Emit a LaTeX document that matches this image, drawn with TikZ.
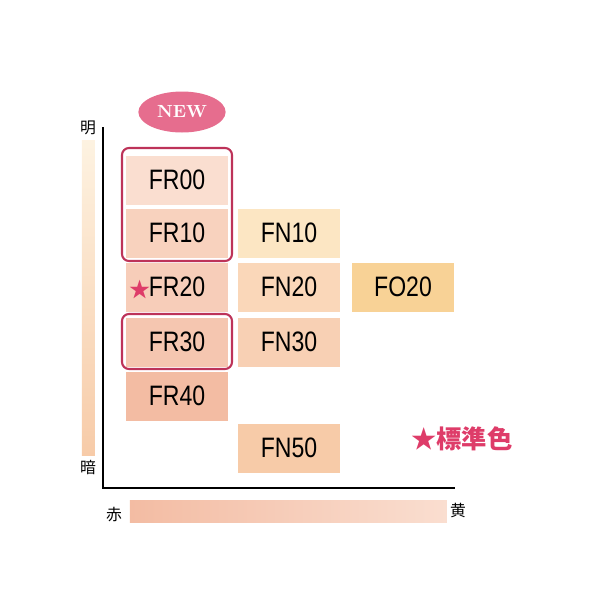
\documentclass[tikz,border=0pt]{standalone}
\usepackage{fontspec}
\newfontfamily\narrowsans[FakeStretch=0.82]{Liberation Sans}
\newfontfamily\jpfont{Noto Sans CJK JP}
\usetikzlibrary{shapes.geometric}
\definecolor{frA}{RGB}{250,222,208}
\definecolor{frB}{RGB}{248,210,190}
\definecolor{frC}{RGB}{247,205,185}
\definecolor{frD}{RGB}{245,198,176}
\definecolor{frE}{RGB}{243,188,163}
\definecolor{fnA}{RGB}{252,230,195}
\definecolor{fnB}{RGB}{250,215,185}
\definecolor{fnC}{RGB}{248,208,180}
\definecolor{fnE}{RGB}{247,203,168}
\definecolor{foB}{RGB}{248,210,150}
\definecolor{rosa}{RGB}{222,60,105}
\begin{document}
\begin{tikzpicture}[x=0.02cm,y=-0.02cm,
  swatch/.style={minimum width=2.04cm,minimum height=0.98cm,inner sep=0pt,
    font=\narrowsans\fontsize{16}{16}\selectfont},
  outline/.style={draw=rosa!85!black,line width=1.2pt,rounded corners=4pt}]
  \useasboundingbox (0,0) rectangle (600,600);
  % Farbfelder
  \node[swatch,fill=frA] (fr00) at (177,180) {FR00};
  \node[swatch,fill=frB] (fr10) at (177,233) {FR10};
  \node[swatch,fill=frC] (fr20) at (177,287) {FR20};
  \node[swatch,fill=frD] (fr30) at (177,342) {FR30};
  \node[swatch,fill=frE] (fr40) at (177,396) {FR40};
  \node[swatch,fill=fnA] (fn10) at (289,233) {FN10};
  \node[swatch,fill=fnB] (fn20) at (289,287) {FN20};
  \node[swatch,fill=fnC] (fn30) at (289,342) {FN30};
  \node[swatch,fill=fnE] (fn50) at (289,448) {FN50};
  \node[swatch,fill=foB] (fo20) at (403,287) {FO20};
  \node[text=rosa,font=\jpfont\large] (star) at (140,290) {★};
  % Umrandungen
  \draw[outline] (122,148) rectangle (232,261);
  \draw[outline] (122,314) rectangle (232,369);
  \node[ellipse,fill=rosa!75!white,minimum width=1.55cm,minimum height=0.82cm,
    text=white,font=\bfseries] (new) at (182,112) {NEW};
  % Achsen
  \draw[line width=0.8pt] (103,127) -- (103,488) -- (455,488);
  \shade[top color=fnA!50,bottom color=fnE] (82,140) rectangle (95,455);
  \shade[left color=frE,right color=frA] (130,500) rectangle (447,522);
  \node[font=\jpfont\small] (hell) at (88,128) {明};
  \node[font=\jpfont\small] (dunkel) at (88,468) {暗};
  \node[font=\jpfont\small] (rot) at (114,515) {赤};
  \node[font=\jpfont\small] (gelb) at (458,511) {黄};
  % Standard
  \node[text=rosa,font=\jpfont\bfseries\Large] (std) at (462,439) {★標準色};
\end{tikzpicture}
\end{document}
